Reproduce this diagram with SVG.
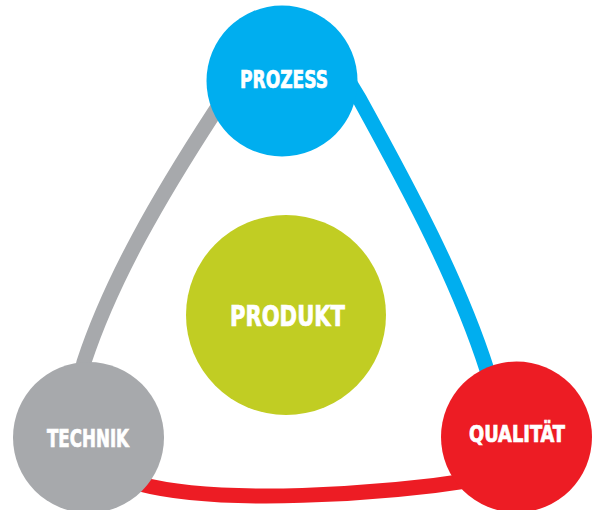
<svg xmlns="http://www.w3.org/2000/svg" width="595" height="510" viewBox="0 0 595 510">
  <style>
    .conn { fill: none; stroke-width: 15; stroke-linecap: butt; }
    .lbl { fill: #ffffff; stroke: #ffffff; stroke-width: 0.7; font-family: 'Liberation Sans Narrow', 'DejaVu Sans Condensed', 'Liberation Sans', sans-serif; font-weight: bold; text-anchor: middle; }
  </style>
  <rect width="595" height="510" fill="#ffffff"/>
  <g id="connectors">
    <path class="conn" stroke="#A7A9AC" d="M222,101 L214,113 C160,196 111.4,279 84,362 L80,378"/>
    <path class="conn" stroke="#00AEEF" d="M348,80 L360,100 C409.5,190 458.2,280 487,370 L490,382"/>
    <path class="conn" stroke="#ED1C24" d="M140,484 C220,505 380,495 480,479"/>
  </g>
  <g id="prozess">
    <circle cx="282" cy="81" r="75.5" fill="#00AEEF"/>
    <text class="lbl" x="284" y="88" font-size="24" textLength="88" lengthAdjust="spacingAndGlyphs">PROZESS</text>
  </g>
  <g id="produkt">
    <circle cx="286" cy="315" r="100" fill="#C1CD23"/>
    <text class="lbl" x="287.5" y="326" font-size="28" textLength="115" lengthAdjust="spacingAndGlyphs">PRODUKT</text>
  </g>
  <g id="technik">
    <circle cx="88.5" cy="437.5" r="75.5" fill="#A7A9AC"/>
    <text class="lbl" x="88" y="447" font-size="24" textLength="82" lengthAdjust="spacingAndGlyphs">TECHNIK</text>
  </g>
  <g id="qualitaet">
    <circle cx="516.5" cy="437" r="75.5" fill="#ED1C24"/>
    <text class="lbl" x="517" y="442" font-size="23" textLength="96" lengthAdjust="spacingAndGlyphs">QUALITÄT</text>
  </g>
</svg>
